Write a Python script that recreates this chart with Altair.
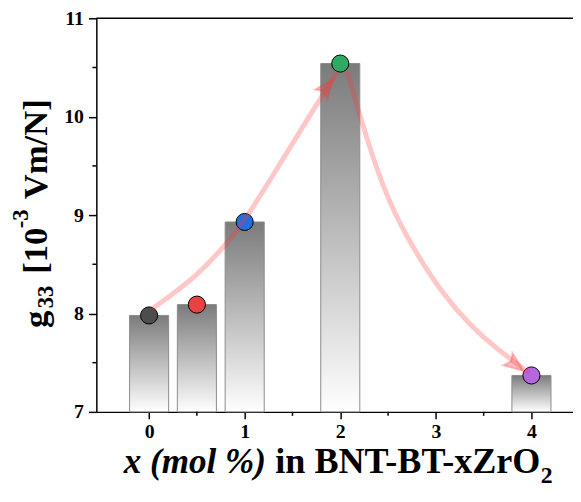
import altair as alt
import pandas as pd

# ---- data ----
x_vals = [0, 0.5, 1, 2, 4]
g33 = [7.98, 8.09, 8.93, 10.54, 7.37]
point_colors = ["#4d4d4d", "#e84343", "#1f6fe0", "#2eaa63", "#b368de"]

x_ticks = [0, 1, 2, 3, 4]
x_minor = [0.5, 1.5, 2.5, 3.5]
y_ticks = [7, 8, 9, 10, 11]
y_minor = [7.5, 8.5, 9.5, 10.5]

# curved guide arrows (data units)
arrow1_x = [0.054, 0.510, 0.844, 0.996, 1.351, 1.655, 1.959]
arrow1_y = [8.062, 8.384, 8.746, 8.937, 9.490, 9.972, 10.444]
arrow2_x = [2.080, 2.283, 2.496, 2.770, 3.074, 3.378, 3.611, 3.956]
arrow2_y = [10.434, 9.751, 9.148, 8.646, 8.194, 7.861, 7.661, 7.410]
head_x = [1.86, 3.83]
head_y = [10.30, 7.48]
head_angle = [39, 127]

x_title_parts = ["x (mol %)", "in BNT-BT-xZrO", "2"]
y_title_parts = ["g", "33", "[10", "-3", "Vm/N]"]

FONT = "Liberation Serif"
W, H = 482, 398
XDOM = [-0.5, 4.383]
YDOM = [7, 11]
xs = alt.Scale(domain=XDOM, nice=False, zero=False)
ys = alt.Scale(domain=YDOM, nice=False, zero=False)

bars_df = pd.DataFrame({"x": x_vals, "g": g33, "c": point_colors})

gradient = {
    "gradient": "linear",
    "x1": 0, "y1": 0, "x2": 0, "y2": 1,
    "stops": [{"offset": 0, "color": "#7b7b7b"}, {"offset": 1, "color": "#ffffff"}],
}

base = alt.Chart(bars_df)

bars = base.mark_bar(size=39.5, fill=gradient, stroke="#8c8c8c", strokeWidth=1).encode(
    x=alt.X("x:Q", scale=xs,
            axis=alt.Axis(values=x_ticks, format="d", title=None, tickSize=7,
                          labelPadding=3, grid=False)),
    y=alt.Y("g:Q", scale=ys,
            axis=alt.Axis(values=y_ticks, format="d", title=None, tickSize=8,
                          labelPadding=5, grid=False)),
    y2=alt.datum(7),
)

points = base.mark_point(filled=True, shape="circle", size=300, stroke="black",
                         strokeWidth=1, opacity=1).encode(
    x=alt.X("x:Q", scale=xs),
    y=alt.Y("g:Q", scale=ys),
    fill=alt.Fill("c:N", scale=None),
)

arr_rows = []
for i, (ax, ay) in enumerate(zip(arrow1_x, arrow1_y)):
    arr_rows.append({"ax": ax, "ay": ay, "id": "a1", "o": i})
for i, (ax, ay) in enumerate(zip(arrow2_x, arrow2_y)):
    arr_rows.append({"ax": ax, "ay": ay, "id": "a2", "o": i})
arr_df = pd.DataFrame(arr_rows)

arrows = alt.Chart(arr_df).mark_line(interpolate="basis", strokeWidth=5,
                                     color="#ff3535", opacity=0.28,
                                     strokeCap="round").encode(
    x=alt.X("ax:Q", scale=xs),
    y=alt.Y("ay:Q", scale=ys),
    detail="id:N",
    order="o:Q",
)

heads_df = pd.DataFrame({"hx": head_x, "hy": head_y, "ang": head_angle})
heads = alt.Chart(heads_df).mark_point(
    shape="M0,-1L0.75,0.9L0,0.5L-0.75,0.9Z", filled=True, size=420,
    fill="#ff3535", fillOpacity=0.3, stroke="#ff3535", strokeOpacity=0.3, strokeWidth=2,
).encode(
    x=alt.X("hx:Q", scale=xs),
    y=alt.Y("hy:Q", scale=ys),
    angle=alt.Angle("ang:Q", scale=None),
)

one = pd.DataFrame({"a": [0]})

top_rule = alt.Chart(one).mark_rule(color="black", strokeWidth=1.5).encode(
    x=alt.value(0), x2=alt.value(W), y=alt.value(0)
)

ym_df = pd.DataFrame({"v": y_minor})
y_minor_ticks = alt.Chart(ym_df).mark_rule(color="black", strokeWidth=1.5).encode(
    y=alt.Y("v:Q", scale=ys), x=alt.value(-4), x2=alt.value(0)
)
xm_df = pd.DataFrame({"v": x_minor})
x_minor_ticks = alt.Chart(xm_df).mark_rule(color="black", strokeWidth=1.5).encode(
    x=alt.X("v:Q", scale=xs), y=alt.value(H), y2=alt.value(H + 4)
)


def txt(s, px, py, size, style="normal", angle=0):
    return alt.Chart(one).mark_text(
        font=FONT, fontSize=size, fontWeight="bold", fontStyle=style,
        align="left", baseline="alphabetic", angle=angle, color="black",
    ).encode(x=alt.value(px), y=alt.value(py), text=alt.value(s))


titles = [
    txt(x_title_parts[0], 27.6, 460.0, 35.5, "italic"),
    txt(x_title_parts[1], 181.0, 460.0, 36.5),
    txt(x_title_parts[2], 449.5, 470.0, 24),
    txt(y_title_parts[0], -50.3, 313.3, 35, angle=270),
    txt(y_title_parts[1], -44.3, 293.3, 23, angle=270),
    txt(y_title_parts[2], -50.3, 258.3, 35, angle=270),
    txt(y_title_parts[3], -69.3, 212.3, 23, angle=270),
    txt(y_title_parts[4], -50.3, 183.0, 35, angle=270),
]

chart = alt.layer(
    bars, points, arrows, heads, top_rule, y_minor_ticks, x_minor_ticks, *titles
).properties(
    width=W, height=H,
    autosize=alt.AutoSizeParams(type="none"),
    padding={"left": 89.35, "top": 7.7, "right": 0, "bottom": 78},
).configure_view(stroke=None).configure_axis(
    labelFont=FONT, labelFontSize=20, labelFontWeight="bold", labelColor="black",
    domainColor="black", domainWidth=1.5, tickColor="black", tickWidth=1.5,
)

chart.save("out.html", embed_options={"renderer": "svg", "actions": False})
